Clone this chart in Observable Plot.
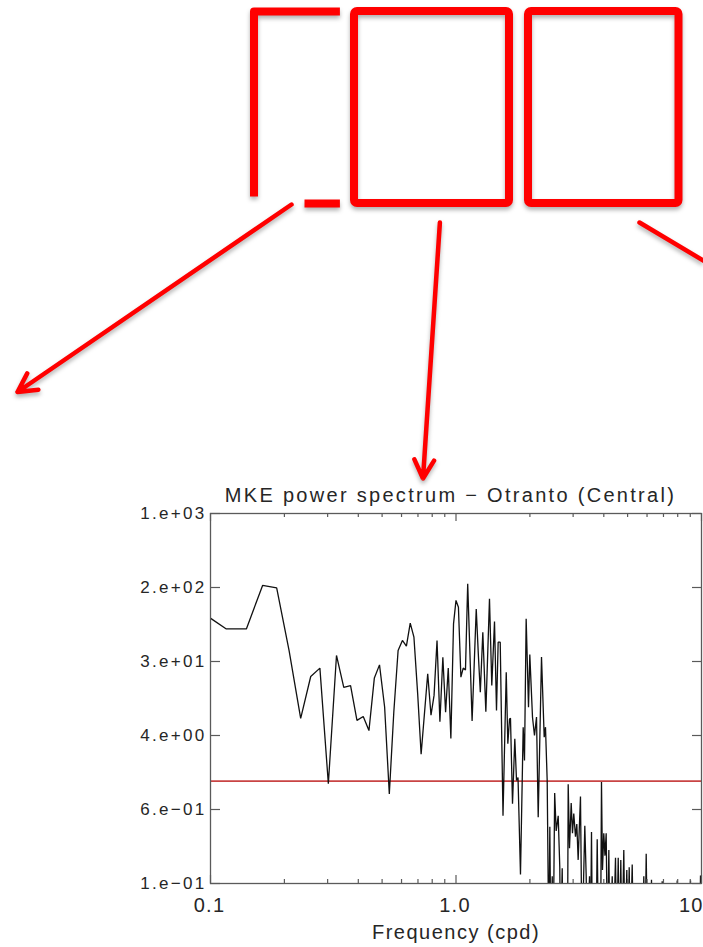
<!DOCTYPE html>
<html>
<head>
<meta charset="utf-8">
<script src="https://cdn.jsdelivr.net/npm/d3@7"></script>
<script src="https://cdn.jsdelivr.net/npm/@observablehq/plot@0.6"></script>
<style>
  html, body { margin: 0; padding: 0; background: #ffffff; }
  #page { position: relative; width: 703px; height: 947px; overflow: hidden; }
  #page > svg { position: absolute; left: 0; top: 0; }
  #page > svg.callouts { filter: drop-shadow(0px 3px 2px rgba(0, 0, 0, 0.3)); }
</style>
</head>
<body>
<div id="page"></div>
<script>
// MKE power spectrum, Otranto (Central): frequency (cpd) and spectral power.
// Values below 0.1 lie under the plotted range and are clipped at the frame.
const freq = [
  0.093, 0.116, 0.140, 0.163, 0.186, 0.209, 0.233, 0.256, 0.279, 0.302,
  0.326, 0.349, 0.372, 0.395, 0.419, 0.442, 0.465, 0.488, 0.512, 0.535,
  0.558, 0.581, 0.605, 0.628, 0.651, 0.674, 0.698, 0.721, 0.744, 0.767,
  0.791, 0.814, 0.837, 0.860, 0.884, 0.907, 0.930, 0.953, 0.977, 1.000,
  1.023, 1.047, 1.070, 1.093, 1.116, 1.140, 1.163, 1.186, 1.209, 1.233,
  1.256, 1.286, 1.323, 1.369, 1.399, 1.435, 1.462, 1.485, 1.514, 1.554,
  1.602, 1.626, 1.652, 1.667, 1.699, 1.736, 1.764, 1.789, 1.831, 1.878,
  1.901, 1.931, 1.974, 1.998, 2.049, 2.088, 2.128, 2.162, 2.230, 2.287,
  2.315, 2.352, 2.388, 2.411, 2.434, 2.466, 2.489, 2.523, 2.559, 2.608,
  2.647, 2.665, 2.708, 2.728, 2.846, 2.864, 2.900, 2.946, 2.982, 3.018,
  3.067, 3.105, 3.145, 3.214, 3.260, 3.347, 3.391, 3.423, 3.499, 3.530,
  3.564, 3.597, 3.718, 3.760, 3.806, 3.880, 3.914, 3.951, 3.999, 4.044,
  4.090, 4.140, 4.193, 4.240, 4.329, 4.369, 4.464, 4.515, 4.579, 4.634,
  4.691, 4.745, 4.825, 4.880, 4.963, 5.010, 5.076, 5.129, 5.221, 5.284,
  5.751, 5.821, 5.888, 5.953, 6.026, 6.199, 6.256, 6.315, 6.839, 6.917,
  7.003, 7.875, 7.962, 8.060, 8.920, 9.020, 9.123, 9.815, 9.907, 9.960
];
const power = [
  84, 56.5, 56.5, 167, 157, 33.0, 6.1, 17.3, 21.3, 1.20,
  29.2, 13.2, 13.8, 5.8, 6.4, 4.5, 16.7, 23.1, 8.1, 0.93,
  7.1, 33.0, 42.4, 36.8, 65.2, 46.0, 11.3, 2.5, 6.9, 18.5,
  6.6, 10.8, 42.4, 5.6, 27.9, 7.1, 21.3, 3.7, 64, 115,
  97, 17.0, 21.3, 20.4, 174, 30, 5.7, 23, 93, 30,
  11.7, 52.1, 7.2, 120, 13.8, 68, 7.4, 40.6, 40.6, 0.54,
  19.2, 3.24, 6.0, 6.1, 0.73, 3.67, 1.30, 1.40, 0.125, 4.9,
  2.14, 72.7, 8.05, 29.9, 6.3, 3.98, 6.3, 0.52, 28.1, 3.82,
  4.9, 1.30, 0.02, 0.41, 0.02, 0.12, 0.02, 0.95, 0.37, 0.54,
  0.15, 0.02, 0.146, 0.02, 0.02, 1.18, 0.24, 0.74, 0.35, 0.57,
  0.32, 0.44, 0.18, 0.87, 0.02, 0.42, 0.12, 0.02, 0.12, 0.02,
  0.36, 0.02, 0.02, 0.30, 0.02, 0.02, 1.25, 0.14, 0.35, 0.20,
  0.35, 0.02, 0.23, 0.02, 0.12, 0.02, 0.19, 0.02, 0.19, 0.02,
  0.18, 0.02, 0.23, 0.02, 0.14, 0.02, 0.15, 0.02, 0.16, 0.02,
  0.02, 0.12, 0.02, 0.21, 0.02, 0.02, 0.11, 0.02, 0.02, 0.106,
  0.02, 0.02, 0.108, 0.02, 0.02, 0.108, 0.02, 0.02, 0.122, 0.02
];

// Horizontal reference level drawn in red
const noiseLevel = 1.28;

// Axis ticks and their labels
const yTickValues = [1000, 158.49, 25.119, 3.9811, 0.63096, 0.1];
const yTickLabels = ["1.e+03", "2.e+02", "3.e+01", "4.e+00", "6.e\u221201", "1.e\u221201"];
const xMajorTicks = [0.1, 1, 10];
const xTickLabels = ["0.1", "1.0", "10"];
const xMinorTicks = [0.2, 0.3, 0.4, 0.5, 0.6, 0.7, 0.8, 0.9, 2, 3, 4, 5, 6, 7, 8, 9];

const titleText = "MKE power spectrum \u2212 Otranto (Central)";
const xLabelText = "Frequency (cpd)";

// Callout frames and arrows of the slide, in page pixels
const calloutBoxes = [
  {x1: 354, y1: 11, x2: 509, y2: 203},
  {x1: 528, y1: 11, x2: 678.5, y2: 203}
];
const calloutPartialFrame = [
  {part: "a", x: 253.5, y: 196}, {part: "a", x: 253.5, y: 11}, {part: "a", x: 339.4, y: 11},
  {part: "b", x: 304, y: 203}, {part: "b", x: 339.4, y: 203}
];
const calloutArrows = [
  {x1: 291, y1: 204, x2: 17, y2: 391.5},
  {x1: 439.4, y1: 222, x2: 422.5, y2: 478},
  {x1: 639, y1: 222, x2: 820, y2: 330}
];

// ---- chart ----
const W = 703, H = 947;
const mTop = 513, mRight = 2, mBottom = 64, mLeft = 210;
const frameW = W - mLeft - mRight, frameH = H - mTop - mBottom;

const spectrum = freq.map((f, i) => ({f, p: power[i]}));
const yTicks = yTickValues.map((v, i) => ({v, label: yTickLabels[i]}));
const xTicks = xMajorTicks.map((v, i) => ({v, label: xTickLabels[i]}));

const axisColor = "#5a5a5a";
const textColor = "#262626";
const font = "'Liberation Sans', Arial, Helvetica, sans-serif";

const chart = Plot.plot({
  width: W, height: H,
  marginTop: mTop, marginRight: mRight, marginBottom: mBottom, marginLeft: mLeft,
  style: {fontFamily: font, fontSize: "16px", color: textColor, background: "transparent", overflow: "hidden"},
  x: {type: "log", domain: [0.1, 10], axis: null},
  y: {type: "log", domain: [0.1, 1000], axis: null},
  marks: [
    Plot.ruleY([noiseLevel], {stroke: "#c94444", strokeWidth: 1.6}),
    Plot.line(spectrum, {x: "f", y: "p", stroke: "#111111", strokeWidth: 1.3, strokeLinejoin: "miter", clip: true}),
    Plot.frame({stroke: axisColor, strokeWidth: 1.3}),
    // inward ticks: left / right (y), bottom / top (x)
    Plot.tickY(yTickValues, {y: d => d, stroke: axisColor, strokeWidth: 1.2, insetRight: frameW - 10}),
    Plot.tickY(yTickValues, {y: d => d, stroke: axisColor, strokeWidth: 1.2, insetLeft: frameW - 9}),
    Plot.tickX(xMajorTicks, {x: d => d, stroke: axisColor, strokeWidth: 1.2, insetTop: frameH - 8}),
    Plot.tickX(xMajorTicks, {x: d => d, stroke: axisColor, strokeWidth: 1.2, insetBottom: frameH - 8}),
    Plot.tickX(xMinorTicks, {x: d => d, stroke: axisColor, strokeWidth: 1.2, insetTop: frameH - 4}),
    Plot.tickX(xMinorTicks, {x: d => d, stroke: axisColor, strokeWidth: 1.2, insetBottom: frameH - 4}),
    // tick labels
    Plot.text(yTicks, {y: "v", text: "label", frameAnchor: "left", textAnchor: "end", lineAnchor: "middle", dx: -4, fontSize: 17, fill: textColor}),
    Plot.text(xTicks.slice(0, 2), {x: "v", text: "label", frameAnchor: "bottom", lineAnchor: "middle", dy: 22.5, dx: -1, fontSize: 20, fill: textColor}),
    Plot.text(xTicks.slice(2), {x: "v", text: "label", frameAnchor: "bottom", textAnchor: "end", lineAnchor: "middle", dy: 22.5, dx: 2.2, fontSize: 20, fill: textColor}),
    // titles
    Plot.text([titleText], {frameAnchor: "top", lineAnchor: "middle", text: d => d, dy: -17.5, dx: -5.5, fontSize: 20, fill: textColor}),
    Plot.text([xLabelText], {frameAnchor: "bottom", lineAnchor: "middle", text: d => d, dy: 49.5, dx: 0, fontSize: 20, fill: textColor})
  ]
});

// Tracking of the lettering: wide, as in the original IDL output
const spacing = new Map([
  [titleText, "2.3px"],
  [xLabelText, "1.5px"],
  ...xTickLabels.map(t => [t, "1.2px"]),
  ...yTickLabels.map(t => [t, "2.3px"])
]);
d3.select(chart).selectAll("text").each(function () {
  const s = spacing.get(this.textContent);
  if (s) this.style.letterSpacing = s;
});

// ---- callout layer ----
const callouts = Plot.plot({
  width: W, height: H, margin: 0,
  x: {domain: [0, W], range: [0, W], axis: null},
  y: {domain: [0, H], range: [0, H], axis: null},
  style: {background: "transparent", overflow: "hidden"},
  marks: [
    Plot.line(calloutPartialFrame, {x: "x", y: "y", z: "part", stroke: "#ff0000", strokeWidth: 8, strokeLinejoin: "round", strokeLinecap: "butt"}),
    Plot.rect(calloutBoxes, {x1: "x1", y1: "y1", x2: "x2", y2: "y2", fill: "none", stroke: "#ff0000", strokeWidth: 8, rx: 3}),
    Plot.arrow(calloutArrows, {x1: "x1", y1: "y1", x2: "x2", y2: "y2", stroke: "#ff0000", strokeWidth: 4.5, headLength: 7, headAngle: 56})
  ]
});
callouts.classList.add("callouts");

const page = document.getElementById("page");
page.appendChild(chart);
page.appendChild(callouts);
</script>
</body>
</html>
